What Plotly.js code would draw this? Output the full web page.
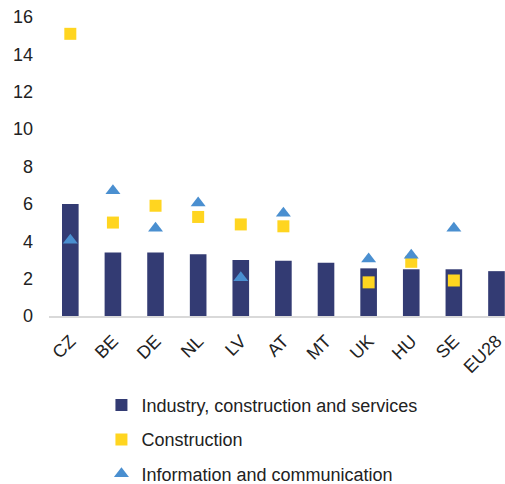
<!DOCTYPE html>
<html>
<head>
<meta charset="utf-8">
<script src="https://cdn.plot.ly/plotly-3.0.1.min.js"></script>
<style>
  html, body { margin: 0; padding: 0; background: #fff; }
  #chart { width: 505px; height: 484px; }
</style>
</head>
<body>
<div id="chart"></div>
<script>
// Countries, ordered as in the source figure
const countries = ["CZ", "BE", "DE", "NL", "LV", "AT", "MT", "UK", "HU", "SE", "EU28"];
const industryServices = [6.0, 3.4, 3.4, 3.3, 3.0, 2.95, 2.85, 2.55, 2.5, 2.5, 2.4];
const construction = [15.1, 5.0, 5.9, 5.3, 4.9, 4.8, null, 1.8, 2.9, 1.9, null];
const infoComm = [4.05, 6.7, 4.7, 6.05, 2.05, 5.5, null, 3.05, 3.25, 4.7, null];

const font = { family: "Liberation Sans, Arial, sans-serif", size: 18, color: "#222" };

const traces = [
  {
    type: "bar", name: "Industry, construction and services",
    x: countries, y: industryServices, width: 0.39,
    marker: { color: "#333b73" }, legendgroup: "a",
  },
  {
    type: "scatter", mode: "markers", name: "Construction",
    x: countries, y: construction,
    marker: { symbol: "square", size: 12, color: "#ffd520" }, legendgroup: "b",
  },
  {
    type: "scatter", mode: "markers", name: "Information and communication",
    x: countries, y: infoComm,
    marker: { symbol: "triangle-up", size: 13, color: "#4a8fd0" }, legendgroup: "c",
  },
];

const layout = {
  width: 505, height: 484,
  margin: { l: 49, r: 0, t: 17, b: 168, autoexpand: false },
  paper_bgcolor: "#fff", plot_bgcolor: "#fff",
  font: font,
  showlegend: true,
  legend: {
    x: 0.115, xanchor: "left", y: -0.237, yanchor: "top",
    traceorder: "grouped", tracegroupgap: 8,
    font: font,
  },
  xaxis: {
    range: [-0.5, 10.2], tickangle: -45, showgrid: false, automargin: false,
    showline: true, linecolor: "#d9d9d9", linewidth: 1.5,
    ticks: "", tickfont: font, ticklabelstandoff: 6, fixedrange: true,
  },
  yaxis: {
    range: [0, 16], dtick: 2, showgrid: false, zeroline: false, automargin: false,
    showline: false, ticks: "", tickfont: font, ticklabelstandoff: 15, fixedrange: true,
  },
};

Plotly.newPlot("chart", traces, layout, { displayModeBar: false, staticPlot: true });
</script>
</body>
</html>
